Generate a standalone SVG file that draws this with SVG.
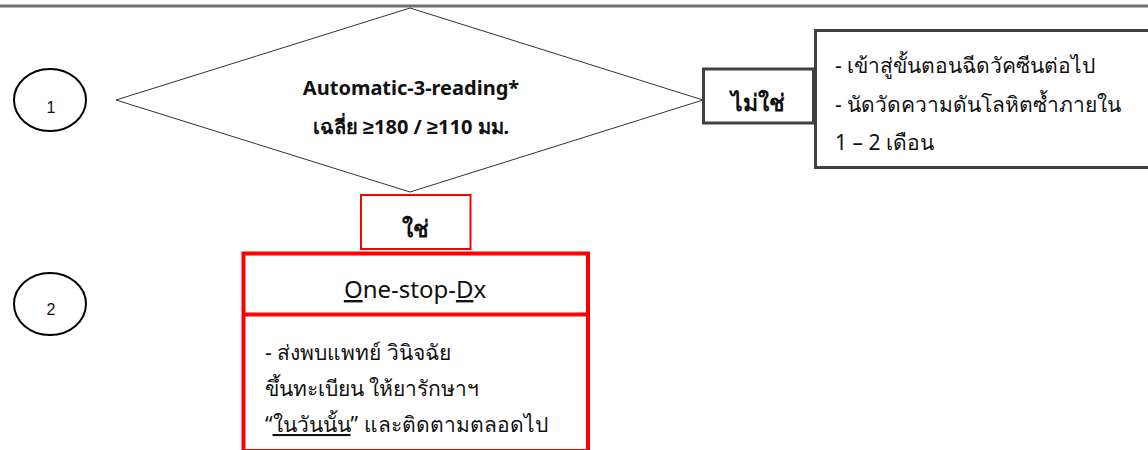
<svg xmlns="http://www.w3.org/2000/svg" width="1148" height="450" viewBox="0 0 1148 450">
<style>
text{font-family:"Noto Sans","Liberation Sans",sans-serif;fill:#111;}
.num{font-family:"Liberation Sans",Arial,sans-serif;font-size:16px;text-anchor:middle;}
.dia{font-size:20px;font-weight:bold;text-anchor:middle;}
.lbl{font-size:23px;font-weight:bold;text-anchor:middle;}
.body{font-size:21px;}
.gbox{fill:#fff;stroke:#404040;stroke-width:3;}
.rbox{fill:#fff;stroke:#ff0000;}
.circ{fill:#fff;stroke:#000;stroke-width:2;}
</style>
<line x1="0" y1="6" x2="1148" y2="6" stroke="#707070" stroke-width="3"/>
<g id="connectors"></g>
<g id="step1">
<ellipse class="circ" cx="50" cy="100" rx="36" ry="31"/>
<text class="num" x="51" y="113">1</text>
</g>
<g id="step2">
<ellipse class="circ" cx="50" cy="304" rx="36" ry="31"/>
<text class="num" x="51" y="315">2</text>
</g>
<g id="decision">
<polygon points="410,8 703,100 410,192 116,100" fill="#fff" stroke="#333" stroke-width="1"/>
<text class="dia" x="411" y="95">Automatic-3-reading*</text>
<text class="dia" x="411" y="134">เฉลี่ย ≥180 / ≥110 มม.</text>
</g>
<g id="no">
<rect class="gbox" x="703.5" y="69" width="110" height="54"/>
<text class="lbl" x="758" y="111">ไม่ใช่</text>
</g>
<g id="no-action">
<rect class="gbox" x="815.5" y="30.5" width="345" height="137"/>
<text class="body" x="835" y="73">- เข้าสู่ขั้นตอนฉีดวัคซีนต่อไป</text>
<text class="body" x="835" y="112">- นัดวัดความดันโลหิตซ้ำภายใน</text>
<text class="body" x="835" y="150">1 – 2 เดือน</text>
</g>
<g id="yes">
<rect class="rbox" x="361" y="195" width="109.5" height="54" stroke-width="2"/>
<text class="lbl" x="415" y="237">ใช่</text>
</g>
<g id="one-stop">
<rect class="rbox" x="243.5" y="253.5" width="344.5" height="197.5" stroke-width="4"/>
<line x1="243.5" y1="314.5" x2="588" y2="314.5" stroke="#ff0000" stroke-width="4"/>
<text x="415" y="298" style="font-size:24px;text-anchor:middle;"><tspan text-decoration="underline">O</tspan>ne-stop-<tspan text-decoration="underline">D</tspan>x</text>
<text class="body" x="265" y="360">- ส่งพบแพทย์ วินิจฉัย</text>
<text class="body" x="265" y="396">ขึ้นทะเบียน ให้ยารักษาฯ</text>
<text class="body" x="265" y="432">“<tspan text-decoration="underline">ในวันนั้น</tspan>” และติดตามตลอดไป</text>
</g>
</svg>
